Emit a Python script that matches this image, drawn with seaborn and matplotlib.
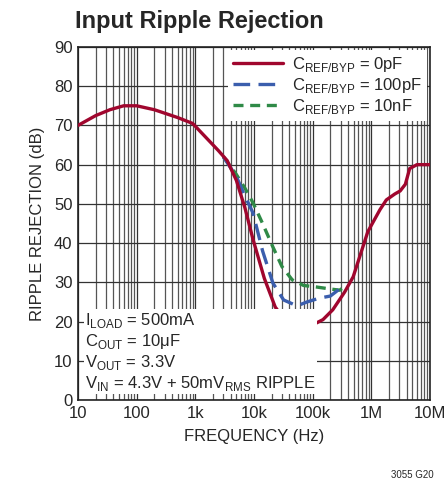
import numpy as np
import pandas as pd
import matplotlib.pyplot as plt
import seaborn as sns
from matplotlib.ticker import FixedLocator, LogLocator, NullFormatter

# (Hz, dB)
freq_0pf = [10, 20, 35, 60, 100, 200, 500, 900, 1500, 2500, 3500, 5000, 7000, 9600, 15000, 23000,
            35000, 56000, 90000, 150000, 220000, 350000, 490000, 870000, 1400000, 1800000,
            2500000, 3100000, 3800000, 4500000, 6000000, 10000000]
rej_0pf = [70, 72.5, 74, 75, 75, 74, 72, 70.5, 67, 63.5, 61, 56, 49, 41, 31, 23.7,
           20, 18, 18.8, 20.5, 23, 27.5, 31.4, 42.9, 48.5, 51, 52.5, 53.3, 55, 59, 60, 60]

freq_100pf = [3000, 5000, 7000, 9600, 14000, 21000, 32000, 54000, 80000, 132000, 200000, 270000, 350000]
rej_100pf = [62, 57, 52, 47.7, 38, 29.8, 25.5, 24, 25, 26, 26.5, 28, 29.5]

freq_10nf = [3000, 5000, 7000, 9600, 14000, 21000, 30000, 45000, 70000, 117000, 200000, 290000, 350000]
rej_10nf = [62, 57.5, 54, 50.3, 45, 39, 34, 30.6, 29.2, 28.8, 28.3, 28, 29]

labels = ['C$_{\\mathregular{REF/BYP}}$ = 0pF', 'C$_{\\mathregular{REF/BYP}}$ = 100pF',
          'C$_{\\mathregular{REF/BYP}}$ = 10nF']
tick_vals = [10, 100, 1e3, 1e4, 1e5, 1e6, 1e7]
tick_labels = ['10', '100', '1k', '10k', '100k', '1M', '10M']

df = pd.concat([
    pd.DataFrame({'f': freq_0pf, 'db': rej_0pf, 'cap': labels[0]}),
    pd.DataFrame({'f': freq_100pf, 'db': rej_100pf, 'cap': labels[1]}),
    pd.DataFrame({'f': freq_10nf, 'db': rej_10nf, 'cap': labels[2]}),
])

sns.set_style('white')
plt.rcParams['font.family'] = ['Liberation Sans Narrow', 'Liberation Sans', 'DejaVu Sans']
plt.rcParams['mathtext.fontset'] = 'custom'
plt.rcParams['mathtext.rm'] = 'Liberation Sans Narrow'

fig = plt.figure(figsize=(4.47, 4.87), dpi=100)
ax = fig.add_axes([0.1745, 0.1786, 0.7875, 0.725])

colors = ['#a0062e', '#3b5ead', '#2f8a47']
dashes = ['', (5, 2.5), (3, 2)]
for lab, col, ds in zip(labels[::-1], colors[::-1], dashes[::-1]):
    sub = df[df['cap'] == lab]
    sns.lineplot(data=sub, x='f', y='db', ax=ax, color=col, lw=2.4, label=lab,
                 sort=False, zorder=3 if ds == '' else 2)
    if ds != '':
        ax.lines[-1].set_dashes(ds)

ax.set_xscale('log')
ax.set_xlim(10, 1e7)
ax.set_ylim(0, 90)
ax.set_yticks(range(0, 91, 10))
ax.xaxis.set_major_locator(FixedLocator(tick_vals))
ax.set_xticklabels(tick_labels)
ax.xaxis.set_minor_locator(LogLocator(base=10, subs=np.arange(2, 10)))
ax.xaxis.set_minor_formatter(NullFormatter())
ax.grid(True, which='major', color='#333333', lw=0.9)
ax.grid(True, which='minor', axis='x', color='#555555', lw=0.9)
ax.tick_params(axis='both', which='major', labelsize=12, length=0, pad=4)
ax.tick_params(axis='x', which='minor', length=0)
for s in ax.spines.values():
    s.set_color('#222222')
    s.set_linewidth(1.2)

ax.set_xlabel('FREQUENCY (Hz)', fontsize=12, labelpad=6)
ax.set_ylabel('RIPPLE REJECTION (dB)', fontsize=12, labelpad=6)

h, l = ax.get_legend_handles_labels()
leg = ax.legend(h[::-1], l[::-1], loc='upper right', fontsize=12, frameon=True,
                fancybox=False, edgecolor='none', framealpha=1, handlelength=3,
                borderaxespad=0.2, labelspacing=0.1, borderpad=0.3, handletextpad=0.5)

ax.text(0.02, 0.02,
        'I$_{\\mathregular{LOAD}}$ = 500mA\nC$_{\\mathregular{OUT}}$ = 10μF\n'
        'V$_{\\mathregular{OUT}}$ = 3.3V\nV$_{\\mathregular{IN}}$ = 4.3V + 50mV$_{\\mathregular{RMS}}$ RIPPLE',
        transform=ax.transAxes, fontsize=12, va='bottom', ha='left', linespacing=1.15,
        bbox=dict(facecolor='white', edgecolor='none', pad=1), zorder=5)

fig.text(0.168, 0.955, 'Input Ripple Rejection', fontsize=17, fontweight='bold', ha='left', va='center')
fig.text(0.97, 0.015, '3055 G20', fontsize=7, ha='right', va='bottom')

fig.savefig('out.png', dpi=100)
